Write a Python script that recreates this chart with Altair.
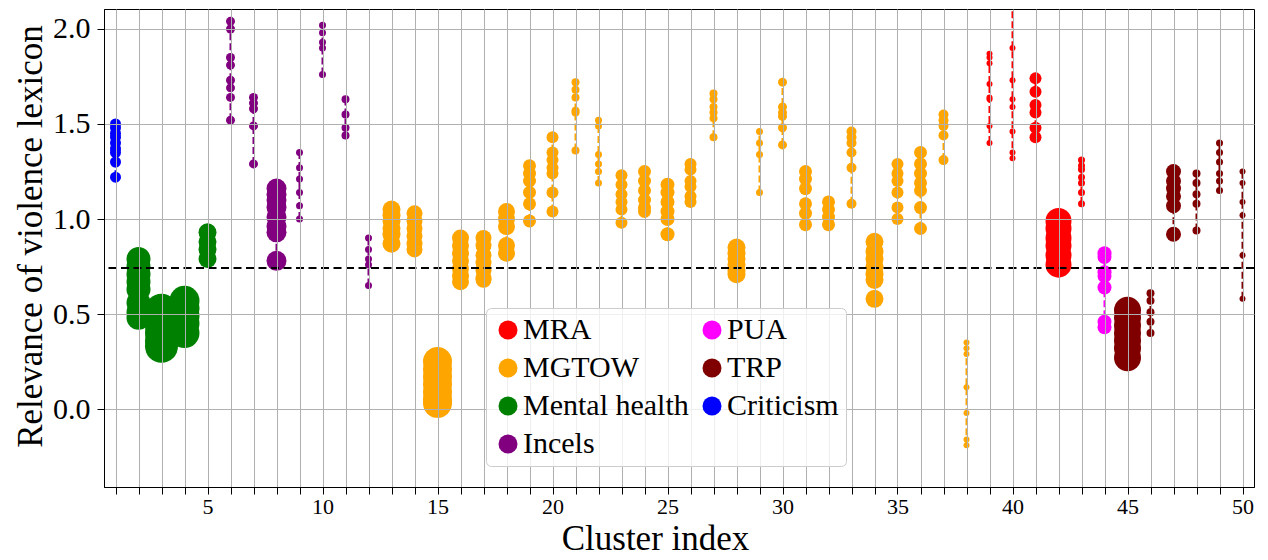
import altair as alt
import pandas as pd

# ---- data -------------------------------------------------------------
cluster_group = (
    ["Criticism"]
    + ["Mental health"] * 4
    + ["Incels"] * 7
    + ["MGTOW"] * 26
    + ["MRA"] * 5
    + ["PUA"]
    + ["TRP"] * 6
)

# marker diameter (cluster size) per cluster
cluster_size = [11, 24, 33, 30, 18, 9, 9, 20, 7, 7,
                8, 7, 18, 16, 29, 17, 16, 17, 13, 12,
                8, 7, 12, 13, 14, 12, 8, 18, 7, 9,
                13, 13, 10, 18, 12, 13, 10, 6, 6, 6,
                12, 26, 7, 14, 27, 8, 15, 8, 7, 6]

relevance = [
    [1.50, 1.48, 1.45, 1.43, 1.40, 1.37, 1.35, 1.30, 1.22],
    [0.79, 0.75, 0.71, 0.67, 0.63, 0.56, 0.51, 0.48],
    [0.52, 0.48, 0.44, 0.40, 0.36, 0.33],
    [0.57, 0.53, 0.49, 0.45, 0.40],
    [0.93, 0.88, 0.84, 0.79],
    [2.04, 2.00, 1.85, 1.81, 1.73, 1.69, 1.64, 1.52],
    [1.64, 1.61, 1.58, 1.49, 1.29],
    [1.16, 1.13, 1.10, 1.06, 1.01, 0.96, 0.93, 0.78],
    [1.35, 1.27, 1.21, 1.14, 1.07, 1.00],
    [2.02, 1.98, 1.93, 1.90, 1.76],
    [1.63, 1.55, 1.48, 1.44],
    [0.90, 0.84, 0.79, 0.76, 0.65],
    [1.05, 1.02, 0.99, 0.95, 0.92, 0.87],
    [1.03, 0.99, 0.95, 0.91, 0.87, 0.84],
    [0.25, 0.21, 0.17, 0.13, 0.09, 0.05, 0.03],
    [0.90, 0.86, 0.82, 0.78, 0.74, 0.70, 0.67],
    [0.90, 0.86, 0.81, 0.77, 0.73, 0.69, 0.68],
    [1.04, 1.00, 0.96, 0.86, 0.82],
    [1.28, 1.24, 1.20, 1.14, 1.08, 0.99],
    [1.43, 1.35, 1.31, 1.27, 1.24, 1.14, 1.04],
    [1.72, 1.68, 1.64, 1.57, 1.56, 1.36],
    [1.52, 1.49, 1.34, 1.29, 1.25, 1.19],
    [1.23, 1.18, 1.13, 1.09, 1.05, 0.98],
    [1.25, 1.20, 1.15, 1.10, 1.06, 1.04],
    [1.18, 1.14, 1.09, 1.04, 1.00, 0.92],
    [1.29, 1.26, 1.20, 1.17, 1.12, 1.09],
    [1.66, 1.63, 1.59, 1.56, 1.53, 1.43],
    [0.85, 0.82, 0.79, 0.76, 0.73, 0.71],
    [1.46, 1.40, 1.34, 1.14],
    [1.72, 1.59, 1.56, 1.54, 1.48, 1.39],
    [1.25, 1.21, 1.16, 1.08, 1.03, 0.97],
    [1.09, 1.05, 1.01, 0.97],
    [1.46, 1.43, 1.40, 1.35, 1.27, 1.08],
    [0.88, 0.83, 0.79, 0.75, 0.71, 0.68, 0.58],
    [1.29, 1.24, 1.20, 1.14, 1.06, 1.00],
    [1.35, 1.29, 1.24, 1.19, 1.15, 1.06, 0.95],
    [1.55, 1.52, 1.49, 1.44, 1.31],
    [0.35, 0.32, 0.29, 0.115, -0.02, -0.16, -0.19],
    [1.87, 1.85, 1.82, 1.71, 1.64, 1.63, 1.49, 1.40],
    [2.25, 1.90, 1.73, 1.63, 1.59, 1.46, 1.35, 1.32],
    [1.74, 1.67, 1.60, 1.56, 1.48, 1.43],
    [0.99, 0.95, 0.90, 0.86, 0.81, 0.76],
    [1.31, 1.28, 1.26, 1.22, 1.19, 1.14, 1.08],
    [0.82, 0.80, 0.72, 0.70, 0.64, 0.46, 0.43],
    [0.52, 0.48, 0.44, 0.40, 0.36, 0.32, 0.27],
    [0.61, 0.57, 0.51, 0.46, 0.40],
    [1.25, 1.20, 1.16, 1.12, 1.07, 0.92],
    [1.24, 1.19, 1.13, 1.08, 0.94],
    [1.40, 1.35, 1.30, 1.24, 1.20, 1.15],
    [1.25, 1.19, 1.09, 1.02, 0.81, 0.58],
]

threshold = [0.742]

group_order = ["MRA", "MGTOW", "Mental health", "Incels", "PUA", "TRP", "Criticism"]
group_colors = ["#FF0000", "#FFA500", "#008000", "#800080", "#FF00FF", "#800000", "#0000FF"]

x_ticks = list(range(1, 51))
y_ticks = [0.0, 0.5, 1.0, 1.5, 2.0]

# ---- build table --------------------------------------------------------
rows = []
for i, (g, d, vals) in enumerate(zip(cluster_group, cluster_size, relevance), start=1):
    for v in vals:
        rows.append({"cluster": i, "value": v, "group": g, "csize": d})
df = pd.DataFrame(rows)
thr_df = pd.DataFrame({"thr": threshold})

# separate (alphabetical) domain for the connecting lines so their scale
# is not merged with the colour legend
line_pairs = sorted(zip(group_order, group_colors))
line_domain = [p[0] for p in line_pairs]
line_range = [p[1] for p in line_pairs]

FONT = "Liberation Serif"

x_enc = alt.X(
    "cluster:Q",
    scale=alt.Scale(domain=[0.5, 50.5], nice=False, zero=False),
    axis=alt.Axis(
        title="Cluster index",
        values=x_ticks,
        labelExpr="datum.value % 5 == 0 ? datum.label : ''",
        labelFontSize=22,
        titleFontSize=35,
        tickSize=7,
        labelPadding=2,
        titlePadding=4,
        titleX=551,
        labelFlush=False,
        labelOverlap=False,
        zindex=1,
    ),
)
y_enc = alt.Y(
    "value:Q",
    scale=alt.Scale(domain=[-0.41, 2.105], nice=False, zero=False),
    axis=alt.Axis(
        title="Relevance of violence lexicon",
        values=y_ticks,
        format=".1f",
        labelFontSize=30,
        titleFontSize=35,
        tickSize=7,
        labelPadding=7,
        titlePadding=4,
        titleY=227,
        labelFlush=False,
        labelOverlap=False,
        zindex=1,
    ),
)
color_scale = alt.Scale(domain=group_order, range=group_colors)

base = alt.Chart(df)

lines = base.mark_line(strokeDash=[7, 3], strokeWidth=2, clip=True).encode(
    x=x_enc,
    y=y_enc,
    stroke=alt.Stroke("group:N", scale=alt.Scale(domain=line_domain, range=line_range),
                      legend=None),
    detail="cluster:N",
    order="value:Q",
)

points = base.mark_circle(opacity=1, clip=True).encode(
    x=x_enc,
    y=y_enc,
    color=alt.Color(
        "group:N",
        scale=color_scale,
        legend=alt.Legend(
            title=None,
            orient="none",
            legendX=382,
            legendY=299,
            columns=2,
            symbolType="circle",
            symbolSize=361,
            symbolStrokeWidth=0,
            labelFont=FONT,
            labelFontSize=30,
            labelColor="black",
            labelLimit=400,
            labelOffset=0,
            columnPadding=8,
            rowPadding=8,
            padding=7,
            fillColor="rgba(255,255,255,0.8)",
            strokeColor="#cccccc",
            cornerRadius=5,
            zindex=2,
        ),
    ),
    size=alt.Size(
        "csize:Q",
        scale=alt.Scale(type="pow", exponent=2, domain=[0, 33], range=[0, 1089]),
        legend=None,
    ),
)

rule = alt.Chart(thr_df).mark_rule(strokeDash=[8, 4.5], strokeWidth=2, color="black").encode(
    y=alt.Y("thr:Q")
)

chart = (
    alt.layer(lines, points, rule)
    .properties(width=1150, height=478, padding={"left": 5, "top": 1, "right": 5, "bottom": 0},
                background="white")
    .configure_axis(
        labelFont=FONT,
        titleFont=FONT,
        titleFontWeight="normal",
        labelColor="black",
        titleColor="black",
        domainColor="black",
        tickColor="black",
        domainWidth=1,
        tickWidth=1,
        gridColor="#b0b0b0",
        gridWidth=1,
    )
    .configure_view(stroke="black", strokeWidth=1)
)

chart.save("out.html", embed_options={"renderer": "svg", "actions": False})
